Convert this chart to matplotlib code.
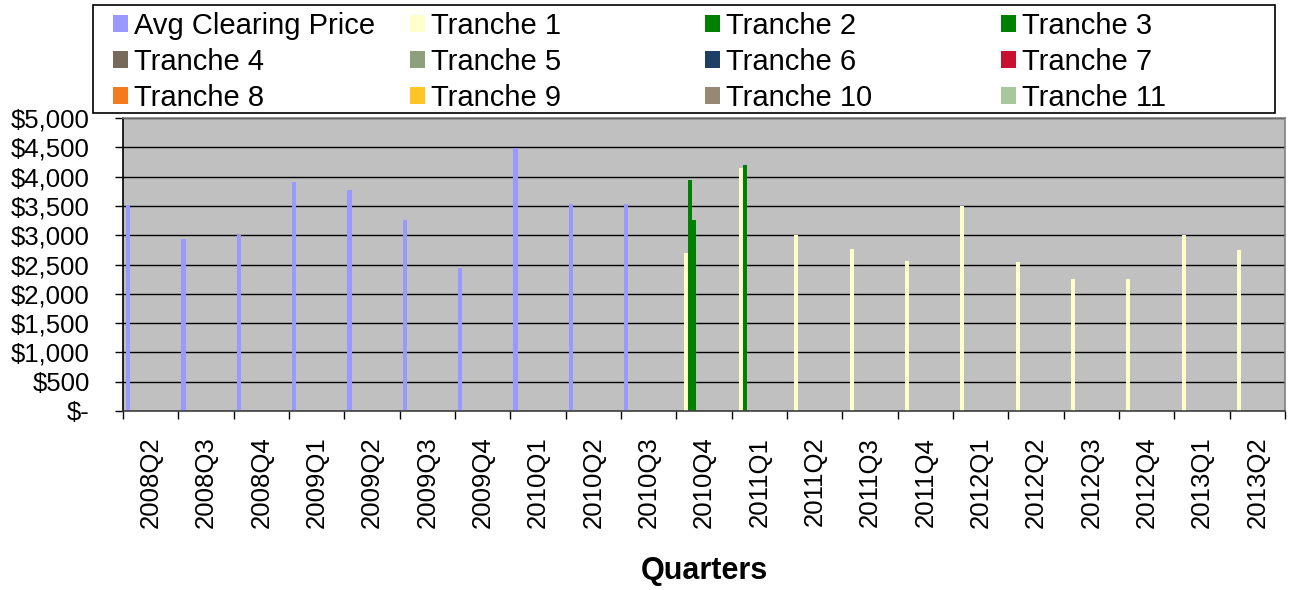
import numpy as np
import matplotlib
matplotlib.use('Agg')
import matplotlib.pyplot as plt
from matplotlib.patches import Rectangle, Patch
from matplotlib.ticker import FuncFormatter, FixedLocator

plt.rcParams['font.family'] = ['Liberation Sans', 'DejaVu Sans']

quarters = ['2008Q2', '2008Q3', '2008Q4', '2009Q1', '2009Q2', '2009Q3', '2009Q4',
            '2010Q1', '2010Q2', '2010Q3', '2010Q4', '2011Q1', '2011Q2', '2011Q3',
            '2011Q4', '2012Q1', '2012Q2', '2012Q3', '2012Q4', '2013Q1', '2013Q2']

# values (None = no bar)
avg_price = [3510, 2930, 3000, 3915, 3770, 3255, 2445, 4480, 3535, 3525,
             None, None, None, None, None, None, None, None, None, None, None]
tranche1 = [None, None, None, None, None, None, None, None, None, None,
            2695, 4140, 3000, 2770, 2560, 3495, 2535, 2245, 2245, 2995, 2745]
tranche2 = [None, None, None, None, None, None, None, None, None, None,
            3945, 4200, None, None, None, None, None, None, None, None, None]
tranche3 = [None, None, None, None, None, None, None, None, None, None,
            3255, None, None, None, None, None, None, None, None, None, None]
no_data = [None] * len(quarters)  # tranches 4-11 have no values

series_names = ['Avg Clearing Price', 'Tranche 1', 'Tranche 2', 'Tranche 3',
                'Tranche 4', 'Tranche 5', 'Tranche 6', 'Tranche 7',
                'Tranche 8', 'Tranche 9', 'Tranche 10', 'Tranche 11']
series_values = [avg_price, tranche1, tranche2, tranche3] + [no_data] * 8
colors = ['#9999FF', '#FFFFCC', '#008000', '#008000', '#786A5A', '#8CA07C',
          '#1F3E64', '#C8102E', '#F47A20', '#FFC425', '#968873', '#A8C79A']

fig = plt.figure(figsize=(12.89, 5.90), dpi=100)
W, H = 1289, 590
ax = fig.add_axes([123 / W, 1 - 411 / H, (1285 - 123) / W, (411 - 118) / H])
ax.set_facecolor('#C0C0C0')

x = np.arange(len(quarters))
w = 1 / 13.5  # Excel: 12 series + 150% gap
handles = []
for j, (name, vals, c) in enumerate(zip(series_names, series_values, colors)):
    v = np.array(vals, dtype=float)
    ax.bar(x + 0.75 * w + j * w, v, width=w, align='edge', color=c, linewidth=0)
    handles.append(Patch(facecolor=c, edgecolor='none', label=name))

ax.set_xlim(0, len(quarters))
ax.set_ylim(0, 5000)
ax.set_yticks(np.arange(0, 5001, 500))
ax.yaxis.set_major_formatter(FuncFormatter(lambda v, p: '$-' if v == 0 else f'${v:,.0f}'))
ax.grid(axis='y', color='black', linewidth=1.0)
ax.set_axisbelow(True)

ax.xaxis.set_major_locator(FixedLocator(np.arange(len(quarters) + 1)))
ax.xaxis.set_minor_locator(FixedLocator(x + 0.5))
ax.set_xticklabels([], minor=False)
ax.set_xticklabels(quarters, minor=True, rotation=90, fontsize=18.5)
ax.tick_params(axis='x', which='major', length=6, width=1, direction='out', color='black')
ax.tick_params(axis='x', which='minor', length=0, pad=18.5)
ax.tick_params(axis='y', length=6, width=1, direction='out', labelsize=18.5, pad=18)

ax.spines['top'].set_color('#808080')
ax.spines['right'].set_color('#808080')
ax.spines['left'].set_color('black')
ax.spines['bottom'].set_color('#404040')
for s in ax.spines.values():
    s.set_linewidth(1.2)

ax.set_xlabel('Quarters', fontsize=22, fontweight='bold', va='center')
ax.xaxis.set_label_coords(0.5, (411 - 571) / (411 - 118))

# legend box with 4 evenly spaced columns
fig.patches.append(Rectangle((93 / W, 1 - 113 / H), (1275 - 93) / W, 108 / H,
                             transform=fig.transFigure, facecolor='white',
                             edgecolor='black', linewidth=1.2, zorder=5))
col_x = [113, 410, 705, 1001]
for c in range(4):
    hs = [handles[c], handles[c + 4], handles[c + 8]]
    leg = fig.legend(handles=hs, loc='upper left', bbox_to_anchor=(col_x[c] / W, 1 - 12 / H),
                     frameon=False, fontsize=21, borderpad=0, borderaxespad=0,
                     handlelength=0.5, handleheight=0.5, handletextpad=0.22,
                     labelspacing=0.27)
    leg.set_zorder(6)

fig.savefig('out.png', dpi=100)
